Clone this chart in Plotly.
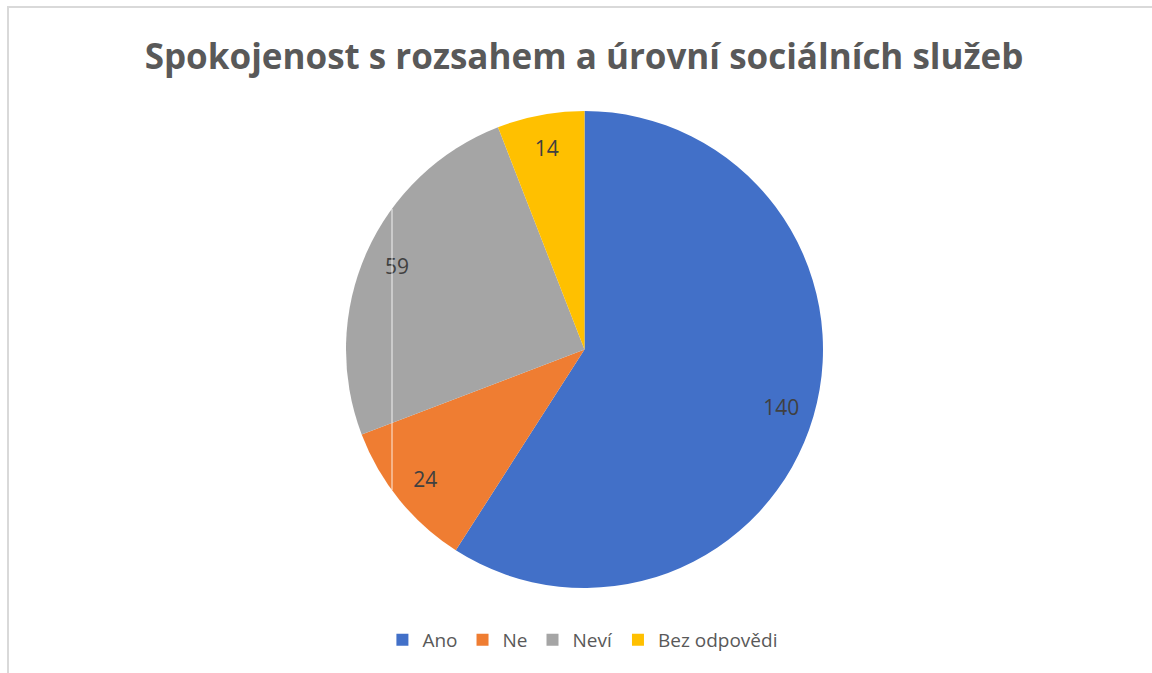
import plotly.graph_objects as go

categories = ["Ano", "Ne", "Neví", "Bez odpovědi"]
values = [140, 24, 59, 14]
colors = ["#4270C8", "#EF7D32", "#A5A5A5", "#FFC000"]

W, H = 1152, 673
cx, cy, r = 584.5, 349.5, 238.5
dom = dict(x=[(cx - r) / W, (cx + r) / W], y=[1 - (cy + r) / H, 1 - (cy - r) / H])

fig = go.Figure()
# colored pie (no text)
fig.add_trace(go.Pie(
    labels=categories,
    values=values,
    sort=False,
    direction="clockwise",
    rotation=0,
    marker=dict(colors=colors, line=dict(width=0)),
    textinfo="none",
    domain=dom,
    hoverinfo="label+value",
))
# transparent ring carrying the value labels near the outer edge
fig.add_trace(go.Pie(
    labels=categories,
    values=values,
    sort=False,
    direction="clockwise",
    rotation=0,
    hole=0.72,
    marker=dict(colors=["rgba(0,0,0,0)"] * len(values), line=dict(width=0)),
    textinfo="value",
    textposition="inside",
    insidetextorientation="horizontal",
    textfont=dict(family="Open Sans", size=21, color="#404040"),
    domain=dom,
    showlegend=False,
    hoverinfo="skip",
))

fig.update_layout(
    width=W, height=H,
    margin=dict(l=0, r=0, t=0, b=0),
    paper_bgcolor="white",
    plot_bgcolor="white",
    title=dict(
        text="<b>Spokojenost s rozsahem a úrovní sociálních služeb</b>",
        font=dict(family="Open Sans", size=35, color="#595959"),
        x=0.507, xanchor="center",
        y=1 - 57 / H, yanchor="middle",
        yref="container", xref="paper",
    ),
    legend=dict(
        orientation="h",
        x=0.506, xanchor="center",
        y=1 - 640 / H, yanchor="middle",
        font=dict(family="Open Sans", size=19, color="#595959"),
        itemwidth=30,
        traceorder="normal",
    ),
    shapes=[
        dict(type="rect", xref="paper", yref="paper",
             x0=8 / W, x1=1.01, y0=-0.01, y1=1 - 7 / H,
             line=dict(color="#D9D9D9", width=2), fillcolor="rgba(0,0,0,0)", layer="above"),
        dict(type="line", xref="paper", yref="paper",
             x0=392 / W, x1=392 / W, y0=1 - 490 / H, y1=1 - 209 / H,
             line=dict(color="rgba(255,255,255,0.85)", width=1), layer="above"),
    ],
)

fig.write_html("out.html")
